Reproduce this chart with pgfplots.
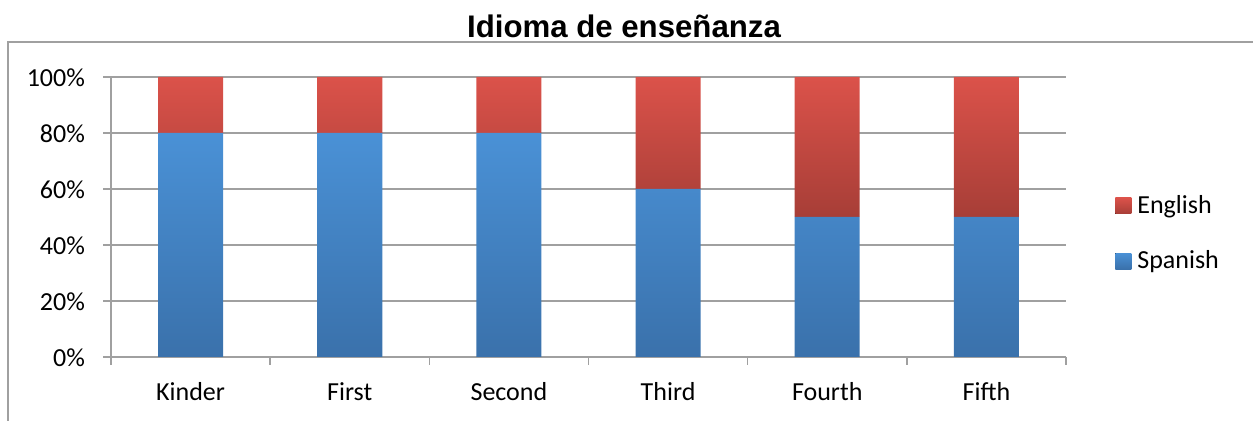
\documentclass[border=0pt]{standalone}
\usepackage{pgfplots}
\pgfplotsset{compat=1.18}
\usepackage{fontspec}
\setmainfont{Carlito}
\newfontfamily\titlefont{Liberation Sans}
\definecolor{redtop}{HTML}{DB524A}
\definecolor{redbot}{HTML}{A73E37}
\definecolor{bluetop}{HTML}{4A91D6}
\definecolor{bluebot}{HTML}{3A71AB}
\definecolor{gridgray}{HTML}{A0A0A0}
\begin{document}
\begin{tikzpicture}
\path[use as bounding box] (0,0) rectangle (626.5pt,210.5pt);
\draw[gridgray, line width=0.75pt] (4pt,0pt) -- (4pt,189.5pt) -- (640pt,189.5pt);
\node[anchor=base, font=\titlefont\bfseries\fontsize{15.6}{18}\selectfont] at (312pt,191.5pt) {Idioma de enseñanza};
\begin{axis}[
  at={(55.5pt,32pt)}, anchor=south west,
  scale only axis, width=477.5pt, height=140pt,
  ybar stacked, bar width=32.5pt,
  xmin=-0.5, xmax=5.5, ymin=0, ymax=100,
  axis x line*=bottom, axis y line*=left,
  axis line style={gridgray, line width=0.75pt},
  xtick={-0.5,0.5,1.5,2.5,3.5,4.5,5.5},
  xticklabels={},
  x tick style={gridgray, line width=0.75pt},
  extra x ticks={0,1,2,3,4,5},
  extra x tick labels={Kinder,First,Second,Third,Fourth,Fifth},
  extra x tick style={major tick length=0pt, tick style={draw=none},
     xticklabel style={yshift=-7.5pt}},
  ytick={0,20,40,60,80,100},
  yticklabels={0\%,20\%,40\%,60\%,80\%,100\%},
  y tick style={gridgray, line width=0.75pt},
  yticklabel style={xshift=-5.5pt, yshift=-2pt},
  tick align=outside, major tick length=4pt,
  ymajorgrids, grid style={gridgray, line width=0.75pt},
  tick label style={font=\fontsize{13}{15}\selectfont, text=black},
  typeset ticklabels with strut,
  legend style={at={(1,0.441)}, anchor=west, xshift=24.5pt, draw=none, fill=none,
    font=\fontsize{13}{15}\selectfont, row sep=13pt, column sep=1pt, inner sep=0pt},
  legend cell align=left,
  legend image code/.code={\fill[#1] (0pt,-4pt) rectangle (8pt,4pt);},
  reverse legend,
]
\addplot[draw=none, top color=bluetop, bottom color=bluebot] coordinates {(0,80) (1,80) (2,80) (3,60) (4,50) (5,50)};
\addplot[draw=none, top color=redtop, bottom color=redbot] coordinates {(0,20) (1,20) (2,20) (3,40) (4,50) (5,50)};
\legend{Spanish,English}
\end{axis}
\end{tikzpicture}
\end{document}
